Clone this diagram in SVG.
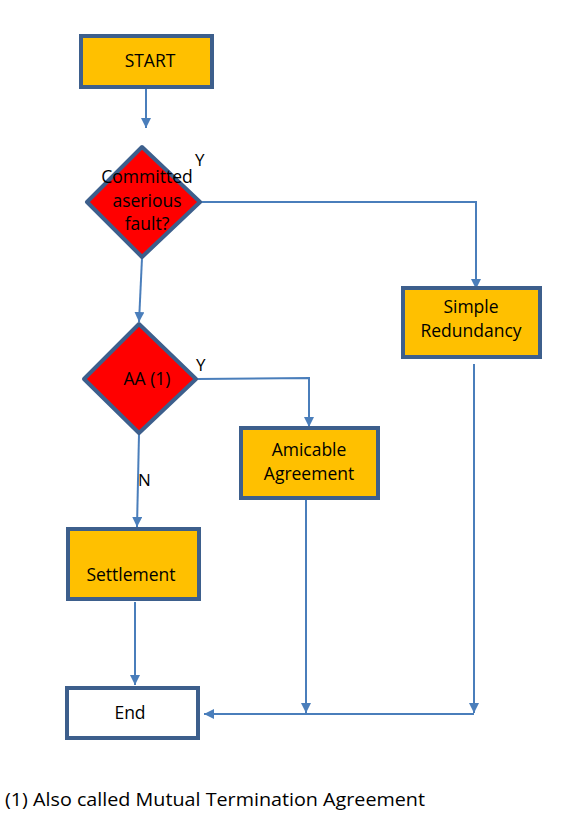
<svg xmlns="http://www.w3.org/2000/svg" width="577" height="813" viewBox="0 0 577 813">
<style>
.box{fill:#FFC000;stroke:#3D5F8C;stroke-width:4}
.end{fill:#FFFFFF;stroke:#3D5F8C;stroke-width:4}
.dia{fill:#FF0000;stroke:#3D5F8C;stroke-width:4;stroke-linejoin:round}
.t{font-family:"Open Sans","Liberation Sans",sans-serif;font-size:17.5px;fill:#000;text-anchor:middle}
.lbl{font-family:"Open Sans","Liberation Sans",sans-serif;font-size:17px;fill:#000}
.c{fill:none;stroke:#4A7EBB;stroke-width:2}
</style>
<defs>
<marker id="ah" viewBox="0 0 10 10" refX="10" refY="5" markerWidth="10" markerHeight="10" markerUnits="userSpaceOnUse" orient="auto">
<path d="M0,0 L10,5 L0,10 z" fill="#4A7EBB"/>
</marker>
</defs>
<g id="connectors">
<line class="c" x1="146" y1="89" x2="146" y2="128" marker-end="url(#ah)"/>
<line class="c" x1="142" y1="258" x2="139" y2="322" marker-end="url(#ah)"/>
<polyline class="c" points="201,202 476,202 476,289" marker-end="url(#ah)"/>
<polyline class="c" points="197,379 309,378 309,427" marker-end="url(#ah)"/>
<line class="c" x1="139" y1="434" x2="137" y2="527" marker-end="url(#ah)"/>
<line class="c" x1="135" y1="602" x2="135" y2="685" marker-end="url(#ah)"/>
<line class="c" x1="306" y1="500" x2="306" y2="713" marker-end="url(#ah)"/>
<line class="c" x1="474" y1="364" x2="474" y2="713" marker-end="url(#ah)"/>
<line class="c" x1="474" y1="714" x2="204" y2="714" marker-end="url(#ah)"/>
<text class="lbl" x="195" y="166">Y</text>
<text class="lbl" x="196" y="371">Y</text>
<text class="lbl" x="138" y="486">N</text>
</g>
<g id="start">
<rect class="box" x="81" y="36" width="131" height="51"/>
<text class="t" x="150" y="67">START</text>
</g>
<g id="fault">
<polygon class="dia" points="142,147 200,202 142,257 87,202"/>
<text class="t" x="147" y="183">Committed</text>
<text class="t" x="147" y="207">aserious</text>
<text class="t" x="147" y="230">fault?</text>
</g>
<g id="redundancy">
<rect class="box" x="403" y="288" width="137" height="69"/>
<text class="t" x="471" y="313">Simple</text>
<text class="t" x="471" y="337">Redundancy</text>
</g>
<g id="aa">
<polygon class="dia" points="139,324 196,379 139,433 84,379"/>
<text class="t" x="147" y="385">AA (1)</text>
</g>
<g id="amicable">
<rect class="box" x="241" y="428" width="137" height="70"/>
<text class="t" x="309" y="456">Amicable</text>
<text class="t" x="309" y="480">Agreement</text>
</g>
<g id="settlement">
<rect class="box" x="68" y="529" width="131" height="70"/>
<text class="t" x="131" y="581">Settlement</text>
</g>
<g id="endnode">
<rect class="end" x="67" y="688" width="131" height="50"/>
<text class="t" x="130" y="719">End</text>
</g>
<text id="footnote" x="5" y="806" font-family="Open Sans, Liberation Sans, sans-serif" font-size="18.5" textLength="420" lengthAdjust="spacingAndGlyphs">(1) Also called Mutual Termination Agreement</text>
</svg>
